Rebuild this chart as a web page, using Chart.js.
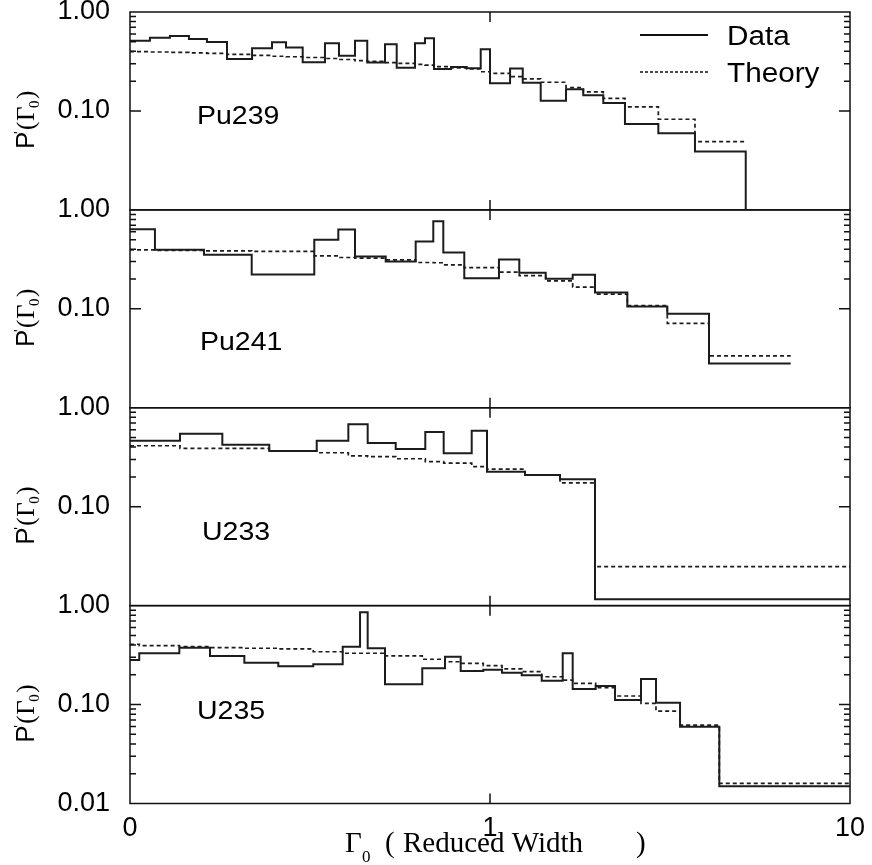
<!DOCTYPE html>
<html>
<head>
<meta charset="utf-8">
<script src="https://cdn.jsdelivr.net/npm/chart.js@4.4.1/dist/chart.umd.min.js"></script>
<style>
  html, body { margin: 0; padding: 0; background: #fff; }
  #wrap { width: 872px; height: 865px; }
</style>
</head>
<body>
<div id="wrap"><canvas id="chart" width="872" height="865"></canvas></div>
<script>
/* ── Data: bin left edges (last entry = right end) and bin heights ── */
var pu239Edges = [0.1, 0.1136, 0.1291, 0.1458, 0.1636, 0.186, 0.2183, 0.248, 0.2712, 0.3018, 0.348, 0.3806,
  0.4217, 0.4561, 0.5109, 0.5506, 0.619, 0.6597, 0.6989, 0.7792, 0.8616, 0.9423, 1.0, 1.137, 1.233, 1.383,
  1.626, 1.816, 2.064, 2.371, 2.935, 3.71, 5.133];
var pu239Data = [0.513, 0.550, 0.572, 0.534, 0.498, 0.335, 0.430, 0.494, 0.438, 0.310, 0.483, 0.362,
  0.513, 0.308, 0.472, 0.274, 0.483, 0.542, 0.266, 0.278, 0.270, 0.420, 0.190, 0.268, 0.193, 0.127,
  0.166, 0.144, 0.120, 0.0739, 0.0595, 0.0388, 0.01];
var pu239Theory = [0.397, 0.394, 0.390, 0.386, 0.382, 0.373, 0.364, 0.357, 0.353, 0.347, 0.339, 0.331,
  0.322, 0.318, 0.308, 0.303, 0.296, 0.291, 0.280, 0.272, 0.266, 0.249, 0.240, 0.222, 0.211, 0.195,
  0.172, 0.156, 0.134, 0.110, 0.0824, 0.0490, 0.0490];

var pu241Edges = [0.1, 0.1173, 0.1605, 0.2178, 0.325, 0.379, 0.4217, 0.5132, 0.6217, 0.6958, 0.7418,
  0.8483, 1.059, 1.206, 1.428, 1.697, 1.957, 2.407, 3.108, 4.058, 6.844];
var pu241Data = [0.638, 0.395, 0.351, 0.222, 0.498, 0.633, 0.338, 0.301, 0.478, 0.769, 0.371,
  0.204, 0.315, 0.231, 0.201, 0.221, 0.146, 0.1055, 0.089, 0.028, 0.028];
var pu241Theory = [0.395, 0.390, 0.386, 0.380, 0.343, 0.330, 0.325, 0.313, 0.294, 0.292, 0.278,
  0.261, 0.235, 0.216, 0.192, 0.166, 0.141, 0.108, 0.0714, 0.0335, 0.0335];

var u233Edges = [0.1, 0.1377, 0.1805, 0.2437, 0.3301, 0.4041, 0.4573, 0.5471, 0.6611, 0.7436, 0.8896,
  0.981, 1.251, 1.565, 1.957, 10];
var u233Data = [0.464, 0.546, 0.423, 0.365, 0.464, 0.680, 0.440, 0.383, 0.568, 0.346, 0.586,
  0.226, 0.209, 0.189, 0.0116, 0.0116];
var u233Theory = [0.413, 0.389, 0.389, 0.365, 0.351, 0.327, 0.320, 0.305, 0.285, 0.276, 0.254,
  0.240, 0.209, 0.174, 0.0248, 0.0248];

var u235Edges = [0.1, 0.1061, 0.1371, 0.1668, 0.2078, 0.2582, 0.3229, 0.3898, 0.4355, 0.4573, 0.5109,
  0.6484, 0.7499, 0.8291, 0.958, 1.080, 1.225, 1.392, 1.592, 1.697, 1.966, 2.225, 2.627, 2.891,
  3.372, 4.335, 10];
var u235Data = [0.282, 0.330, 0.376, 0.310, 0.265, 0.2435, 0.255, 0.385, 0.857, 0.370, 0.160,
  0.2325, 0.305, 0.218, 0.225, 0.210, 0.1975, 0.174, 0.330, 0.1435, 0.154, 0.111, 0.181, 0.1043,
  0.0596, 0.01497, 0.01497];
var u235Theory = [0.407, 0.394, 0.385, 0.376, 0.371, 0.365, 0.342, 0.330, 0.330, 0.330, 0.310,
  0.287, 0.271, 0.261, 0.247, 0.229, 0.215, 0.191, 0.177, 0.164, 0.148, 0.122, 0.1028, 0.0859,
  0.062, 0.01594, 0.01594];

var panelNames = ['Pu239', 'Pu241', 'U233', 'U235'];
var seriesNames = ['Data', 'Theory'];
var xTickValues = [0.1, 1, 10];
var xTickLabels = ['0', '1', '10'];
var yTickValues = [1, 0.1];
var yTickValuesLast = [1, 0.1, 0.01];
var minorUpper = [0.2, 0.3, 0.4, 0.5, 0.6, 0.7, 0.8, 0.9];
var minorLower = [0.02, 0.03, 0.04, 0.05, 0.06, 0.07, 0.08, 0.09];

/* ── Styling ── */
var INK = '#111';
var LINE = '#1c1c1c';
var SANS = '"Liberation Sans", Arial, sans-serif';
var SERIF = '"Liberation Serif", "Times New Roman", serif';
var labelPos = [[67, 105], [70, 133], [72, 125], [67, 106]]; // panel-name offsets from panel top-left

var panelIds = ['y1', 'y2', 'y3', 'y4'];
var edgesList = [pu239Edges, pu241Edges, u233Edges, u235Edges];
var dataList = [pu239Data, pu241Data, u233Data, u235Data];
var theoryList = [pu239Theory, pu241Theory, u233Theory, u235Theory];

function toPoints(edges, vals) {
  return edges.map(function (x, i) { return { x: x, y: vals[i] }; });
}

var datasets = [];
panelIds.forEach(function (id, k) {
  datasets.push({
    label: panelNames[k] + ' ' + seriesNames[0],
    data: toPoints(edgesList[k], dataList[k]),
    yAxisID: id, stepped: true, borderColor: LINE, borderWidth: 2,
    pointRadius: 0, fill: false, borderJoinStyle: 'miter'
  });
});
panelIds.forEach(function (id, k) {
  datasets.push({
    label: panelNames[k] + ' ' + seriesNames[1],
    data: toPoints(edgesList[k], theoryList[k]),
    yAxisID: id, stepped: true, borderColor: LINE, borderWidth: 1.7,
    borderDash: [4, 3], pointRadius: 0, fill: false
  });
});

var tickFont = { family: SANS, size: 27 };

function yAxis(k) {
  var last = k === panelIds.length - 1;
  return {
    type: 'logarithmic',
    position: 'left',
    stack: 'panels',
    stackWeight: 1,
    weight: panelIds.length - k,
    min: 0.01,
    max: 1,
    grid: { display: false, drawTicks: false },
    border: { display: false },
    ticks: {
      font: tickFont, color: '#000', padding: 20, autoSkip: false,
      callback: function (v) { return Number(v).toFixed(2); }
    },
    afterBuildTicks: function (s) {
      s.ticks = (last ? yTickValuesLast : yTickValues).map(function (v) { return { value: v }; });
    },
    afterFit: function (s) { s.width = 130; s.paddingTop = 0; s.paddingBottom = 0; }
  };
}

var scales = {
  x: {
    type: 'logarithmic',
    position: 'bottom',
    min: 0.1,
    max: 10,
    grid: { display: false, drawTicks: false },
    border: { display: false },
    ticks: {
      font: tickFont, color: '#000', padding: 9, autoSkip: false, maxRotation: 0,
      callback: function (v, i) { return xTickLabels[i]; }
    },
    afterBuildTicks: function (s) {
      s.ticks = xTickValues.map(function (v) { return { value: v }; });
    },
    afterFit: function (s) { s.height = 61.5; s.paddingLeft = 0; s.paddingRight = 0; }
  }
};
panelIds.forEach(function (id, k) { scales[id] = yAxis(k); });

function stretchText(ctx, txt, x, y, sx) {
  ctx.save();
  ctx.translate(x, y);
  ctx.scale(sx, 1);
  ctx.fillText(txt, 0, 0);
  ctx.restore();
}

/* ── Frames, inward ticks, labels, legend, axis titles ── */
var decor = {
  id: 'decor',
  afterDatasetsDraw: function (chart) {
    var ctx = chart.ctx, xs = chart.scales.x;
    var L = xs.left, R = xs.right;
    var x1 = xs.getPixelForValue(1);
    ctx.save();
    ctx.strokeStyle = INK;
    ctx.fillStyle = '#000';
    ctx.lineWidth = 1.5;

    panelIds.forEach(function (id, k) {
      var ys = chart.scales[id];
      ctx.strokeRect(L, ys.top, R - L, ys.bottom - ys.top);
      ctx.beginPath();
      var minors = k === panelIds.length - 1 ? minorUpper.concat(minorLower) : minorUpper;
      minors.forEach(function (v) {
        var y = ys.getPixelForValue(v);
        ctx.moveTo(L, y); ctx.lineTo(L + 6, y);
        ctx.moveTo(R, y); ctx.lineTo(R - 6, y);
      });
      var ym = ys.getPixelForValue(0.1);
      ctx.moveTo(L, ym); ctx.lineTo(L + 11, ym);
      ctx.moveTo(R, ym); ctx.lineTo(R - 11, ym);
      ctx.moveTo(x1, ys.top); ctx.lineTo(x1, ys.top + 10);
      ctx.moveTo(x1, ys.bottom); ctx.lineTo(x1, ys.bottom - 10);
      ctx.stroke();

      // panel name
      ctx.font = '25px ' + SANS;
      ctx.textBaseline = 'middle';
      ctx.textAlign = 'left';
      stretchText(ctx, panelNames[k], L + labelPos[k][0], ys.top + labelPos[k][1], 1.14);

      // y title  P'(Γ0)
      ctx.save();
      ctx.translate(34, ys.top + 137);
      ctx.rotate(-Math.PI / 2);
      ctx.textBaseline = 'alphabetic';
      ctx.font = '26px ' + SANS;
      ctx.fillText('P', 0, 0);
      ctx.font = '14px ' + SANS;
      ctx.fillText("'", 15, -10);
      ctx.font = '25px ' + SERIF;
      ctx.fillText('(', 19, 0);
      ctx.fillText('\u0393', 28, 0);
      ctx.fillText(')', 50, 0);
      ctx.font = '15px ' + SERIF;
      ctx.fillText('0', 41, 5);
      ctx.restore();
    });

    // legend
    var top = chart.scales.y1.top;
    ctx.beginPath();
    ctx.lineWidth = 1.8;
    ctx.moveTo(R - 210, top + 23); ctx.lineTo(R - 142, top + 23);
    ctx.stroke();
    ctx.beginPath();
    ctx.lineWidth = 1.4;
    ctx.setLineDash([3, 2]);
    ctx.moveTo(R - 210, top + 60); ctx.lineTo(R - 142, top + 60);
    ctx.stroke();
    ctx.setLineDash([]);
    ctx.font = '27px ' + SANS;
    ctx.textBaseline = 'alphabetic';
    stretchText(ctx, seriesNames[0], R - 123, top + 33, 1.1);
    stretchText(ctx, seriesNames[1], R - 123, top + 70, 1.1);

    // x title  Γ0 ( Reduced Width )
    var base = xs.top + 48.5;
    ctx.font = '29px ' + SERIF;
    ctx.fillText('\u0393', x1 - 145, base);
    ctx.fillText('(', x1 - 105, base);
    ctx.fillText('Reduced Width', x1 - 87, base);
    ctx.fillText(')', x1 + 146, base);
    ctx.font = '17px ' + SERIF;
    ctx.fillText('0', x1 - 128, base + 10);
    ctx.restore();
  }
};

new Chart(document.getElementById('chart'), {
  type: 'line',
  data: { datasets: datasets },
  options: {
    responsive: false,
    animation: false,
    layout: { padding: { top: 12, right: 22, left: 0, bottom: 0 } },
    plugins: { legend: { display: false }, tooltip: { enabled: false } },
    elements: { line: { tension: 0 } },
    scales: scales
  },
  plugins: [decor]
});
</script>
</body>
</html>
